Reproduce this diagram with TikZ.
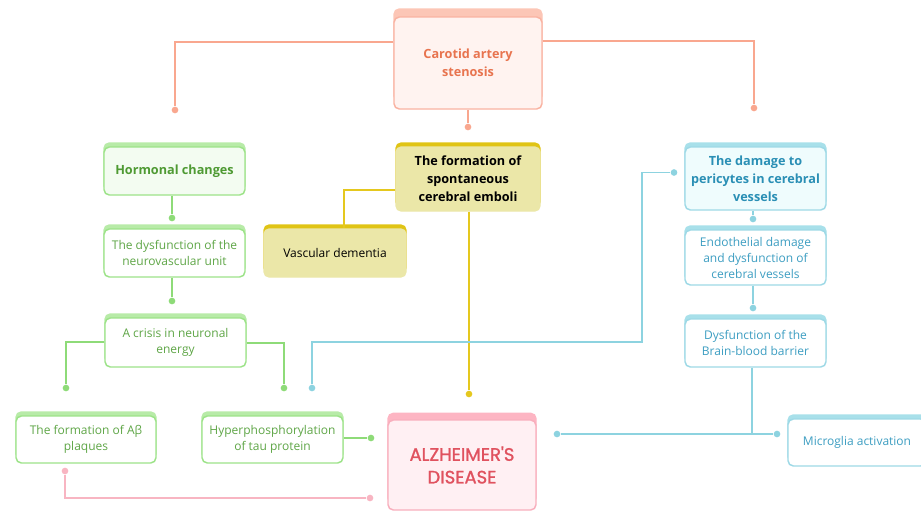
\documentclass[tikz,border=0pt]{standalone}
\usepackage{fontspec}
\setmainfont{Open Sans}
\newfontfamily\alzfont[FakeBold=1.2]{Poppins}
\usepackage{xcolor}

\definecolor{salLine}{HTML}{F9A78F}
\definecolor{salBorder}{HTML}{F9B3A2}
\definecolor{salStrip}{HTML}{FCC6B6}
\definecolor{salFill}{HTML}{FFF3F0}
\definecolor{salText}{HTML}{E8744F}
\definecolor{grnLine}{HTML}{8EDB78}
\definecolor{grnBorder}{HTML}{9DE389}
\definecolor{grnStrip}{HTML}{B8EBA8}
\definecolor{grnFill}{HTML}{F3FCF1}
\definecolor{grnText}{HTML}{5FA647}
\definecolor{grnDark}{HTML}{4E9A33}
\definecolor{ylwLine}{HTML}{E5C81E}
\definecolor{ylwStrip}{HTML}{E0C415}
\definecolor{ylwFill}{HTML}{EBE7A8}
\definecolor{bluLine}{HTML}{8DD3E0}
\definecolor{bluBorder}{HTML}{9ED9E6}
\definecolor{bluStrip}{HTML}{A8E0EA}
\definecolor{bluFill}{HTML}{EFFCFD}
\definecolor{bluText}{HTML}{3D9EC2}
\definecolor{bluDark}{HTML}{2A8FB5}
\definecolor{pnkLine}{HTML}{F8B5C2}
\definecolor{pnkBorder}{HTML}{F8AFBD}
\definecolor{pnkStrip}{HTML}{FDB5C3}
\definecolor{pnkFill}{HTML}{FFF0F3}
\definecolor{pnkText}{HTML}{E0525F}

\begin{document}
\begin{tikzpicture}[x=0.75pt,y=-0.75pt,
  card/.style={rounded corners=4pt, line width=1.1pt, align=center, inner sep=2pt,
    font=\fontsize{9}{12}\selectfont},
  sz/.style 2 args={minimum width=#1*0.75pt, minimum height=#2*0.75pt},
  salbox/.style={card, draw=salBorder, fill=salFill, text=salText,
    preaction={fill=salStrip, draw=salStrip, transform canvas={yshift=6pt}}},
  grnbox/.style={card, draw=grnBorder, fill=white, text=grnText,
    preaction={fill=grnStrip, draw=grnStrip, transform canvas={yshift=3pt}}},
  ylwbox/.style={card, draw=ylwFill, fill=ylwFill, text=black,
    preaction={fill=ylwStrip, draw=ylwStrip, transform canvas={yshift=3pt}}},
  blubox/.style={card, draw=bluBorder, fill=white, text=bluText,
    preaction={fill=bluStrip, draw=bluStrip, transform canvas={yshift=3pt}}},
  pnkbox/.style={card, draw=pnkBorder, fill=pnkFill, text=pnkText,
    preaction={fill=pnkStrip, draw=pnkStrip, transform canvas={yshift=5pt}}},
  bold/.style={font=\bfseries\fontsize{9.5}{13.5}\selectfont},
  dot/.style={circle, fill=#1, inner sep=0pt, minimum size=5pt},
  link/.style={draw=#1, line width=1.2pt}]
\useasboundingbox (0,0) rectangle (921,511);

% boxes
\node[salbox, sz={148}{92}, bold] (carotid) at (468,63) {Carotid artery\\stenosis};
\node[grnbox, sz={141}{48}, bold, fill=grnFill, text=grnDark] (hormonal) at (174.5,171) {Hormonal changes};
\node[grnbox, sz={141}{48}] (neuro) at (174.5,253) {The dysfunction of the\\neurovascular unit};
\node[grnbox, sz={141}{49}] (crisis) at (175.5,342.5) {A crisis in neuronal\\energy};
\node[grnbox, sz={140}{47}] (plaques) at (86,439.5) {The formation of Aβ\\plaques};
\node[grnbox, sz={141}{47}] (tau) at (272.5,439.5) {Hyperphosphorylation\\of tau protein};
\node[ylwbox, sz={144}{64}, bold] (emboli) at (468,179) {The formation of\\spontaneous\\cerebral emboli};
\node[ylwbox, sz={142}{48}] (vascular) at (335,253) {Vascular dementia};
\node[blubox, sz={141}{63}, bold, fill=bluFill, text=bluDark] (pericytes) at (755.5,178.5) {The damage to\\pericytes in cerebral\\vessels};
\node[blubox, sz={141}{55}] (endo) at (755.5,257.5) {Endothelial damage\\and dysfunction of\\cerebral vessels};
\node[blubox, sz={141}{48}] (bbb) at (755.5,343) {Dysfunction of the\\Brain-blood barrier};
\node[blubox, sz={138}{47}] (microglia) at (857,442.5) {Microglia activation};
\node[pnkbox, sz={148}{90}, font=\alzfont\fontsize{13.5}{17}\selectfont] (alz) at (462,465) {ALZHEIMER'S\\DISEASE};

% dots
\node[dot=salLine] (hL) at (175,110) {};
\node[dot=salLine] (hR) at (754,108) {};
\node[dot=salLine] (hC) at (468,127) {};
\node[dot=grnLine] (g1) at (172,218) {};
\node[dot=grnLine] (g2) at (172,301) {};
\node[dot=grnLine] (g3) at (66,388) {};
\node[dot=grnLine] (g4) at (284,388) {};
\node[dot=grnLine] (g5) at (371,438) {};
\node[dot=ylwLine] (y1) at (469,394) {};
\node[dot=bluLine] (b1) at (312,388) {};
\node[dot=bluLine] (b2) at (674,172.5) {};
\node[dot=bluLine] (b3) at (753,219) {};
\node[dot=bluLine] (b4) at (753,308) {};
\node[dot=bluLine] (b5) at (557,434) {};
\node[dot=bluLine] (b6) at (777,434) {};
\node[dot=pnkLine] (p1) at (65,471) {};
\node[dot=pnkLine] (p2) at (370,498) {};

% connectors
\draw[link=salLine] (carotid.west |- 0,42) -| (hL);
\draw[link=salLine] (carotid.east |- 0,41) -| (hR);
\draw[link=salLine] (carotid.south -| hC) -- (hC);
\draw[link=grnLine] (hormonal.south -| g1) -- (g1);
\draw[link=grnLine] (neuro.south -| g2) -- (g2);
\draw[link=grnLine] (crisis.west |- 0,342) -| (g3);
\draw[link=grnLine] (crisis.east |- 0,343) -| (g4);
\draw[link=grnLine] (tau.east |- 0,438) -- (g5);
\draw[link=ylwLine] (emboli.west |- 0,190) -| (vascular.north -| 344,0);
\draw[link=ylwLine] (emboli.south -| y1) -- (y1);
\draw[link=bluLine] (b1) |- (642,342) |- (b2);
\draw[link=bluLine] (pericytes.south -| b3) -- (b3);
\draw[link=bluLine] (endo.south -| b4) -- (b4);
\draw[link=bluLine] (b5) -- (b6);
\draw[link=bluLine] (bbb.south -| 752,0) -- (752,434);
\draw[link=pnkLine] (p1) |- (p2);
\end{tikzpicture}
\end{document}
